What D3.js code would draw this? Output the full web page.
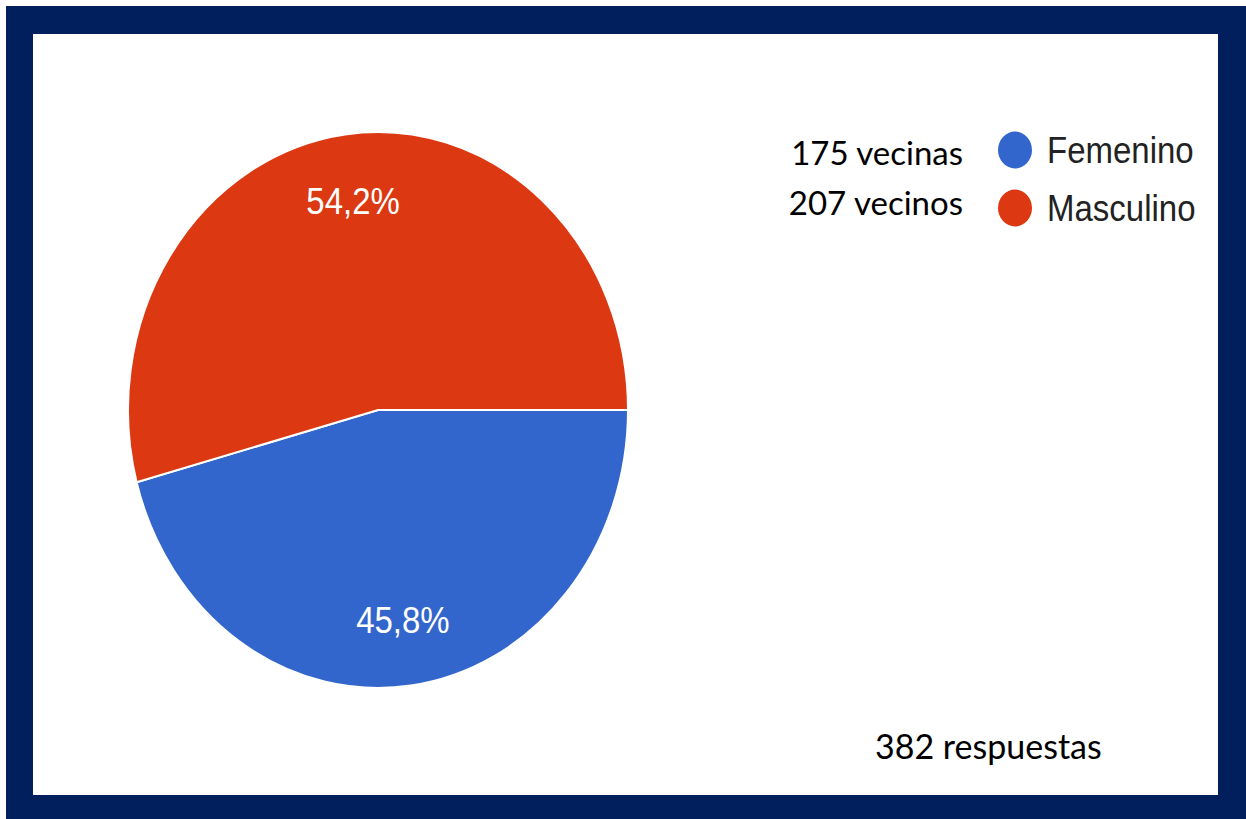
<!DOCTYPE html>
<html>
<head>
<meta charset="utf-8">
<script src="https://cdn.jsdelivr.net/npm/d3@7"></script>
<style>
  body { margin: 0; background: #ffffff; }
  svg { display: block; }
</style>
</head>
<body>
<svg id="chart"></svg>
<script>
// data
var categories = ["Femenino", "Masculino"];
var counts = [175, 207];
var countLabels = ["175 vecinas", "207 vecinos"];
var colors = ["#3366cc", "#dc3912"];
var totalLabel = "382 respuestas";

var W = 1246, H = 819;
var svg = d3.select("#chart").attr("width", W).attr("height", H);

// dark frame
svg.append("rect")
    .attr("x", 6).attr("y", 6)
    .attr("width", W - 6).attr("height", H - 6)
    .attr("fill", "#011f5c");
svg.append("rect")
    .attr("x", 33).attr("y", 34)
    .attr("width", 1218 - 33).attr("height", 795 - 34)
    .attr("fill", "#ffffff");

var cx = 378, cy = 410, r = 250, sy = 1.112;
var total = d3.sum(counts);
var fmt = function(v){ return d3.format(".1f")(v * 100).replace(".", ",") + "%"; };

var data = categories.map(function(c, i){ return { name: c, value: counts[i], color: colors[i] }; });

var pie = d3.pie()
    .value(function(d){ return d.value; })
    .sort(null)
    .startAngle(Math.PI / 2)
    .endAngle(Math.PI / 2 + 2 * Math.PI);
var arc = d3.arc().innerRadius(0).outerRadius(r);
var labelArc = d3.arc().innerRadius(r * 0.76).outerRadius(r * 0.76);

var arcs = pie(data);

var pieG = svg.append("g")
    .attr("transform", "translate(" + cx + "," + cy + ") scale(1," + sy + ")");

pieG.selectAll("path").data(arcs)
    .enter().append("path")
    .attr("d", arc)
    .attr("fill", function(d){ return d.data.color; })
    .attr("stroke", "#ffffff")
    .attr("stroke-width", 2)
    .attr("vector-effect", "non-scaling-stroke");

// percent labels
svg.selectAll("text.pct").data(arcs)
    .enter().append("text")
    .attr("class", "pct")
    .attr("transform", function(d){
        var c = labelArc.centroid(d);
        return "translate(" + (cx + c[0]) + "," + (cy + c[1] * sy) + ") scale(1," + sy + ")";
    })
    .attr("text-anchor", "middle")
    .attr("dominant-baseline", "central")
    .attr("font-family", "'Liberation Sans', Arial, sans-serif")
    .attr("font-size", 33)
    .attr("fill", "#ffffff")
    .text(function(d){ return fmt(d.data.value / total); });

// legend
var legendY = d3.scaleBand().domain(categories).range([121, 237]);
var leg = svg.selectAll("g.legend").data(data)
    .enter().append("g")
    .attr("class", "legend")
    .attr("transform", function(d){ return "translate(0," + (legendY(d.name) + legendY.bandwidth() / 2) + ")"; });

leg.append("ellipse")
    .attr("cx", 1015).attr("cy", 0)
    .attr("rx", 17).attr("ry", 18.5)
    .attr("fill", function(d){ return d.color; });

leg.append("text")
    .attr("transform", "translate(1047,0) scale(1," + sy + ")")
    .attr("dy", "0.36em")
    .attr("font-family", "'Liberation Sans', Arial, sans-serif")
    .attr("font-size", 33)
    .attr("fill", "#222222")
    .text(function(d){ return d.name; });

// counts beside the legend
var countY = d3.scalePoint().domain(categories).range([165, 215]);
svg.selectAll("text.count").data(data)
    .enter().append("text")
    .attr("class", "count")
    .attr("x", 963)
    .attr("y", function(d){ return countY(d.name); })
    .attr("text-anchor", "end")
    .attr("font-family", "Lato, 'Open Sans', sans-serif")
    .attr("font-size", 33)
    .attr("fill", "#000000")
    .text(function(d, i){ return countLabels[i]; });

svg.append("text")
    .attr("x", 875).attr("y", 759)
    .attr("font-family", "Lato, 'Open Sans', sans-serif")
    .attr("font-size", 34)
    .attr("fill", "#000000")
    .text(totalLabel);
</script>
</body>
</html>
